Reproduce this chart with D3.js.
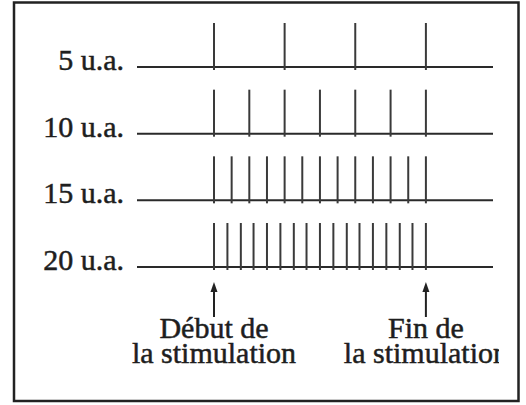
<!DOCTYPE html>
<html>
<head>
<meta charset="utf-8">
<script src="https://cdn.jsdelivr.net/npm/d3@7"></script>
<style>
  body { margin: 0; background: #fff; }
  text { font-family: "Liberation Serif", "Times New Roman", serif; fill: #1e1e1e; stroke: #1e1e1e; stroke-width: 0.5px; }
</style>
</head>
<body>
<script>
// intensities of stimulation (rows)
var intensities = ["5 u.a.", "10 u.a.", "15 u.a.", "20 u.a."];

// spike times (ms) for each intensity, stimulation lasts 0 -> 300
var spikes5  = [0, 100, 200, 300];
var spikes10 = [0, 50, 100, 150, 200, 250, 300];
var spikes15 = [0, 25, 50, 75, 100, 125, 150, 175, 200, 225, 250, 275, 300];
var spikes20 = [0, 19, 38, 56, 75, 94, 113, 131, 150, 169, 188, 206, 225, 244, 263, 281, 300];

var traceExtent = [-109, 395];
var stimulation = [0, 300];
var stimLabels = [["Début de", "la stimulation"], ["Fin de", "la stimulation"]];

var rows = intensities.map(function(name, i) {
    return { name: name, spikes: [spikes5, spikes10, spikes15, spikes20][i] };
});

var width = 526,
    height = 405;

var svg = d3.select("body").append("svg")
    .attr("width", width)
    .attr("height", height);

var x = d3.scaleLinear()
    .domain(traceExtent)
    .range([137, 493]);

var y = d3.scalePoint()
    .domain(intensities)
    .range([67, 267]);

// frame
svg.append("rect")
    .attr("x", 14)
    .attr("y", 2.5)
    .attr("width", 504.5)
    .attr("height", 398.5)
    .attr("fill", "none")
    .attr("stroke", "#222")
    .attr("stroke-width", 2.5);

var row = svg.selectAll(".row")
    .data(rows)
    .enter().append("g")
    .attr("class", "row")
    .attr("transform", function(d) { return "translate(0," + y(d.name) + ")"; });

// base line of each recording
row.append("line")
    .attr("x1", x(traceExtent[0]))
    .attr("x2", x(traceExtent[1]))
    .attr("stroke", "#2a2a2a")
    .attr("stroke-width", 2);

// action potentials
row.selectAll(".spike")
    .data(function(d) { return d.spikes; })
    .enter().append("line")
    .attr("class", "spike")
    .attr("x1", function(d) { return x(d); })
    .attr("x2", function(d) { return x(d); })
    .attr("y1", 3)
    .attr("y2", -44)
    .attr("stroke", "#3a3a3a")
    .attr("stroke-width", 2);

row.append("text")
    .attr("x", 124)
    .attr("y", 3)
    .attr("text-anchor", "end")
    .style("font-size", "30px")
    .text(function(d) { return d.name; });

// arrows for start / end of stimulation
svg.append("clipPath").attr("id", "clip")
    .append("rect").attr("x", 0).attr("y", 0).attr("width", 499).attr("height", height);

var mark = svg.selectAll(".mark")
    .data(stimulation)
    .enter().append("g")
    .attr("class", "mark")
    .attr("clip-path", "url(#clip)");

mark.append("line")
    .attr("x1", function(d) { return x(d); })
    .attr("x2", function(d) { return x(d); })
    .attr("y1", 288)
    .attr("y2", 317)
    .attr("stroke", "#222")
    .attr("stroke-width", 2);

mark.append("path")
    .attr("d", function(d) {
        var cx = x(d);
        return "M" + cx + ",282L" + (cx + 3.5) + ",292L" + (cx - 3.5) + ",292Z";
    })
    .attr("fill", "#222");

mark.append("text")
    .attr("text-anchor", "middle")
    .style("font-size", "30px")
    .selectAll("tspan")
    .data(function(d, i) { return stimLabels[i].map(function(t) { return { t: t, cx: x(d) }; }); })
    .enter().append("tspan")
    .attr("x", function(d) { return d.cx; })
    .attr("y", function(d, i) { return 338 + i * 25; })
    .text(function(d) { return d.t; });
</script>
</body>
</html>
